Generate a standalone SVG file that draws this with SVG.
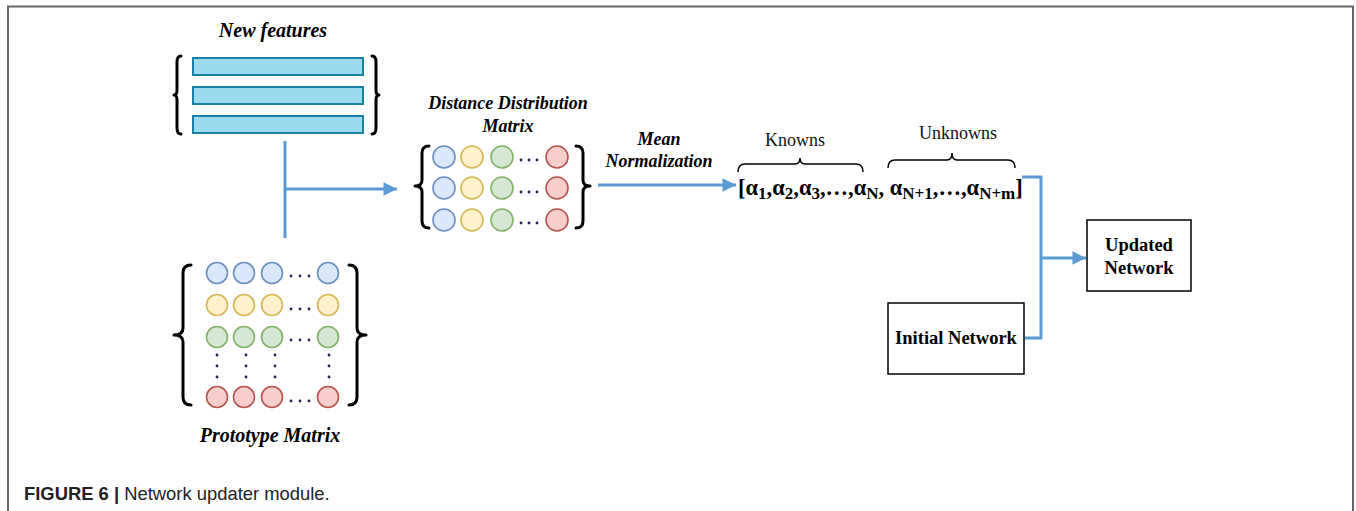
<svg xmlns="http://www.w3.org/2000/svg" width="1356" height="511" viewBox="0 0 1356 511">
<defs>
<marker id="arr" viewBox="0 0 10 10" refX="10" refY="5" markerWidth="5.5" markerHeight="4.5" orient="auto" markerUnits="strokeWidth">
<path d="M0,0 L10,5 L0,10 z" fill="#5b9bd5"/>
</marker>
<style>
.ttl{font-family:"Liberation Serif",serif;font-weight:bold;font-style:italic;font-size:18px;fill:#000;text-anchor:middle}
.big{font-size:20px}
.lbl{font-family:"Liberation Serif",serif;font-size:18px;fill:#111;text-anchor:middle}
.bold{font-family:"Liberation Serif",serif;font-weight:bold;font-size:18.5px;fill:#000;text-anchor:middle}
.seq{font-family:"Liberation Serif",serif;font-weight:bold;font-size:22.5px;fill:#000}
.sub{font-size:17px}
.brace{fill:none;stroke:#000;stroke-width:3;stroke-linecap:round;stroke-linejoin:round}
.thin{fill:none;stroke:#000;stroke-width:1.5}
.bar{fill:#9adcee;stroke:#1a7fa8;stroke-width:2}
.cb{fill:#dae8fc;stroke:#6c8ebf;stroke-width:1.6}
.cy{fill:#fff2cc;stroke:#d6b656;stroke-width:1.6}
.cg{fill:#d5e8d4;stroke:#82b366;stroke-width:1.6}
.cr{fill:#f8cecc;stroke:#b85450;stroke-width:1.6}
.dot{fill:#1a2350}
.conn{fill:none;stroke:#5b9bd5;stroke-width:3}
.box{fill:#fff;stroke:#000;stroke-width:1.5}
.frame{fill:none;stroke:#666;stroke-width:2}
.cap{font-family:"Liberation Sans",Arial,sans-serif;font-size:18.4px;fill:#222}
</style>
</defs>
<rect width="1356" height="511" fill="#fff"/>
<path class="frame" d="M8,511 L8,6.5 L1353,6.5 L1353,511"/>

<g id="new-features">
<text class="ttl big" x="273" y="37">New features</text>
<rect class="bar" x="193" y="58" width="170" height="17"/>
<rect class="bar" x="193" y="87" width="170" height="17"/>
<rect class="bar" x="193" y="116" width="170" height="17"/>
<path class="brace" d="M181,56 Q177,56 177,62 L177,90 Q177,95 174,95 Q177,95 177,100 L177,128 Q177,134 181,134"/>
<path class="brace" d="M372,56 Q376,56 376,62 L376,90 Q376,95 379,95 Q376,95 376,100 L376,128 Q376,134 372,134"/>
</g>

<g id="prototype-matrix">
<circle class="cb" cx="217" cy="273" r="10.5"/><circle class="cb" cx="244" cy="273" r="10.5"/><circle class="cb" cx="272" cy="273" r="10.5"/><circle class="cb" cx="328" cy="273" r="10.5"/>
<circle class="cy" cx="217" cy="305" r="10.5"/><circle class="cy" cx="244" cy="305" r="10.5"/><circle class="cy" cx="272" cy="305" r="10.5"/><circle class="cy" cx="328" cy="305" r="10.5"/>
<circle class="cg" cx="217" cy="337" r="10.5"/><circle class="cg" cx="244" cy="337" r="10.5"/><circle class="cg" cx="272" cy="337" r="10.5"/><circle class="cg" cx="328" cy="337" r="10.5"/>
<circle class="cr" cx="217" cy="397" r="10.5"/><circle class="cr" cx="244" cy="397" r="10.5"/><circle class="cr" cx="272" cy="397" r="10.5"/><circle class="cr" cx="328" cy="397" r="10.5"/>
<g class="dot">
<circle cx="291" cy="276" r="1.4"/><circle cx="300" cy="276" r="1.4"/><circle cx="309" cy="276" r="1.4"/>
<circle cx="291" cy="309" r="1.4"/><circle cx="300" cy="309" r="1.4"/><circle cx="309" cy="309" r="1.4"/>
<circle cx="291" cy="340" r="1.4"/><circle cx="300" cy="340" r="1.4"/><circle cx="309" cy="340" r="1.4"/>
<circle cx="291" cy="401" r="1.4"/><circle cx="300" cy="401" r="1.4"/><circle cx="309" cy="401" r="1.4"/>
<circle cx="217" cy="355" r="1.4"/><circle cx="217" cy="366" r="1.4"/><circle cx="217" cy="377" r="1.4"/>
<circle cx="246" cy="355" r="1.4"/><circle cx="246" cy="366" r="1.4"/><circle cx="246" cy="377" r="1.4"/>
<circle cx="275" cy="355" r="1.4"/><circle cx="275" cy="366" r="1.4"/><circle cx="275" cy="377" r="1.4"/>
<circle cx="329" cy="355" r="1.4"/><circle cx="329" cy="366" r="1.4"/><circle cx="329" cy="377" r="1.4"/>
</g>
<path class="brace" d="M191,265 Q183,265 183,273 L183,328 Q183,335 174,335 Q183,335 183,342 L183,397 Q183,405 191,405"/>
<path class="brace" d="M349,265 Q357,265 357,273 L357,328 Q357,335 366,335 Q357,335 357,342 L357,397 Q357,405 349,405"/>
<text class="ttl big" x="270" y="442">Prototype Matrix</text>
</g>

<g id="distance-matrix">
<text class="ttl" x="508" y="109">Distance Distribution</text>
<text class="ttl" x="508" y="132">Matrix</text>
<circle class="cb" cx="444" cy="157" r="11"/><circle class="cy" cx="472" cy="157" r="11"/><circle class="cg" cx="502" cy="157" r="11"/><circle class="cr" cx="557" cy="157" r="11"/>
<circle class="cb" cx="444" cy="188" r="11"/><circle class="cy" cx="472" cy="188" r="11"/><circle class="cg" cx="502" cy="188" r="11"/><circle class="cr" cx="557" cy="188" r="11"/>
<circle class="cb" cx="444" cy="220" r="11"/><circle class="cy" cx="472" cy="220" r="11"/><circle class="cg" cx="502" cy="220" r="11"/><circle class="cr" cx="557" cy="220" r="11"/>
<g class="dot">
<circle cx="521" cy="160" r="1.4"/><circle cx="529" cy="160" r="1.4"/><circle cx="537" cy="160" r="1.4"/>
<circle cx="521" cy="192" r="1.4"/><circle cx="529" cy="192" r="1.4"/><circle cx="537" cy="192" r="1.4"/>
<circle cx="521" cy="223" r="1.4"/><circle cx="529" cy="223" r="1.4"/><circle cx="537" cy="223" r="1.4"/>
</g>
<path class="brace" d="M429,146 Q422,146 422,153 L422,180 Q422,186 415,186 Q422,186 422,192 L422,221 Q422,228 429,228"/>
<path class="brace" d="M576,146 Q583,146 583,153 L583,180 Q583,186 590,186 Q583,186 583,192 L583,221 Q583,228 576,228"/>
</g>

<g id="mean-normalization">
<text class="ttl" x="659" y="145">Mean</text>
<text class="ttl" x="659" y="167">Normalization</text>
</g>

<g id="alpha-vector">
<text class="lbl" x="795" y="146">Knowns</text>
<text class="lbl" x="958" y="139">Unknowns</text>
<path class="thin" d="M738,172 Q738,164 745,164 L795,164 Q800,164 800,158 Q800,164 805,164 L856,164 Q863,164 863,172"/>
<path class="thin" d="M888,168 Q888,160 895,160 L947,160 Q952,160 952,153 Q952,160 957,160 L1008,160 Q1015,160 1015,168"/>
<text class="seq" x="738" y="195">[α<tspan class="sub" dy="4">1</tspan><tspan dy="-4">,α</tspan><tspan class="sub" dy="4">2</tspan><tspan dy="-4">,α</tspan><tspan class="sub" dy="4">3</tspan><tspan dy="-4">,…,α</tspan><tspan class="sub" dy="4">N</tspan><tspan dy="-4">, α</tspan><tspan class="sub" dy="4">N+1</tspan><tspan dy="-4">,…,α</tspan><tspan class="sub" dy="4">N+m</tspan><tspan dy="-4">]</tspan></text>
</g>

<g id="initial-network">
<rect class="box" x="888" y="303" width="136" height="71"/>
<text class="bold" x="956" y="344">Initial Network</text>
</g>

<g id="updated-network">
<rect class="box" x="1087" y="220" width="104" height="71"/>
<text class="bold" x="1139" y="251">Updated</text>
<text class="bold" x="1139" y="274">Network</text>
</g>

<g id="connectors">
<path class="conn" d="M285,141 L285,238"/>
<path class="conn" d="M285,189 L397,189" marker-end="url(#arr)"/>
<path class="conn" d="M598,185 L736,185" marker-end="url(#arr)"/>
<path class="conn" d="M1022,177 L1041,177 L1041,338 L1025,338"/>
<path class="conn" d="M1041,258 L1086,258" marker-end="url(#arr)"/>
</g>

<text class="cap" x="24" y="500"><tspan font-weight="bold">FIGURE 6 | </tspan>Network updater module.</text>
</svg>
